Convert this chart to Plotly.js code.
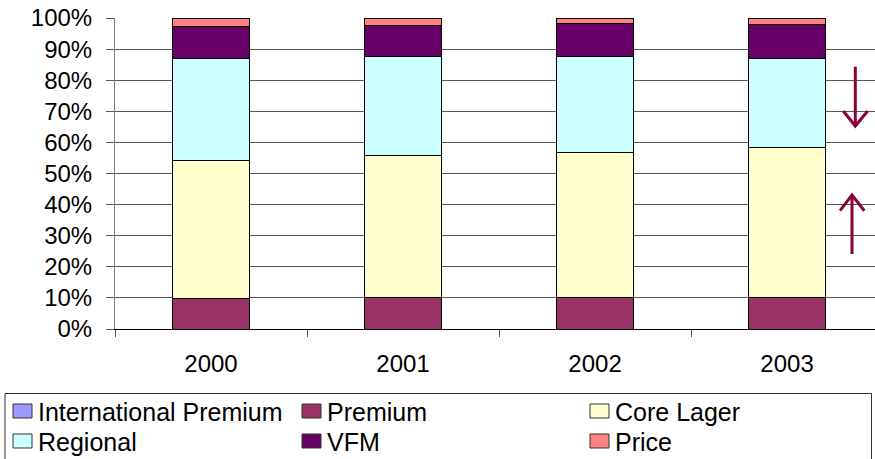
<!DOCTYPE html>
<html>
<head>
<meta charset="utf-8">
<script src="https://cdn.plot.ly/plotly-3.0.1.min.js"></script>
<style>
  html, body { margin: 0; padding: 0; background: #fff; }
  #chart { width: 875px; height: 459px; }
</style>
</head>
<body>
<div id="chart"></div>
<script>
// Beer market segment shares by year (fractions of 1)
const years = ['2000', '2001', '2002', '2003'];
const internationalPremium = [0.000, 0.000, 0.000, 0.000];
const premium   = [0.097, 0.100, 0.100, 0.101];
const coreLager = [0.446, 0.459, 0.467, 0.482];
const regional  = [0.328, 0.316, 0.309, 0.288];
const vfm       = [0.103, 0.100, 0.105, 0.108];
const price     = [0.026, 0.025, 0.019, 0.021];

const seriesNames  = ['International Premium', 'Premium', 'Core Lager', 'Regional', 'VFM', 'Price'];
const seriesValues = [internationalPremium, premium, coreLager, regional, vfm, price];
const seriesColors = ['#9999FF', '#993366', '#FFFFCC', '#CCFFFF', '#660066', '#FF8080'];

const FONT = 'Arial, "Liberation Sans", sans-serif';

// Page geometry (pixels) and helpers to place decorations in paper units
const W = 875, H = 459;
const M = { l: 115, r: 0, t: 18, b: 130 };
const plotW = W - M.l - M.r, plotH = H - M.t - M.b;
const px = p => (p - M.l) / plotW;
const py = p => (H - M.b - p) / plotH;

const traces = seriesNames.map((name, i) => ({
  type: 'bar',
  name: name,
  x: years,
  y: seriesValues[i],
  width: 0.4,
  marker: { color: seriesColors[i], line: { color: '#000', width: 1 } },
  hoverinfo: 'skip',
  showlegend: false
}));

// Trend arrows beside the last bar
const arrowColor = '#8B0038';
function arrow(x, yFrom, yTip, yHead, xl, xr) {
  return [
    { type: 'line', xref: 'paper', yref: 'paper',
      x0: px(x), x1: px(x), y0: py(yFrom), y1: py(yTip),
      line: { color: arrowColor, width: 3 } },
    { type: 'path', xref: 'paper', yref: 'paper',
      path: `M ${px(xl)},${py(yHead)} L ${px(x)},${py(yTip)} L ${px(xr)},${py(yHead)}`,
      line: { color: arrowColor, width: 3 } }
  ];
}

// Boxed key below the plot: three columns, two rows
const keyCols = [13, 302, 590];
const keyRows = [411, 441];
const keyShapes = [{
  type: 'rect', xref: 'paper', yref: 'paper',
  x0: px(5), x1: px(871.5), y0: py(393.5), y1: py(480),
  line: { color: '#333', width: 1 }, fillcolor: 'rgba(0,0,0,0)'
}];
const keyLabels = [];
seriesNames.forEach((name, i) => {
  const cx = keyCols[i % 3], cy = keyRows[Math.floor(i / 3)];
  keyShapes.push({
    type: 'rect', xref: 'paper', yref: 'paper',
    x0: px(cx), x1: px(cx + 19), y0: py(cy - 7), y1: py(cy + 7),
    fillcolor: seriesColors[i], line: { color: '#333', width: 1 }
  });
  keyLabels.push({
    xref: 'paper', yref: 'paper', x: px(cx + 23), y: py(cy + 1),
    xanchor: 'left', yanchor: 'middle', showarrow: false,
    text: name, font: { family: FONT, size: 25, color: '#000' }
  });
});

const layout = {
  width: W,
  height: H,
  margin: M,
  paper_bgcolor: '#fff',
  plot_bgcolor: '#fff',
  barmode: 'stack',
  showlegend: false,
  font: { family: FONT, color: '#000', size: 24 },
  xaxis: {
    type: 'category',
    range: [-0.5, 3.458],
    showgrid: false,
    showline: true,
    linecolor: '#000',
    linewidth: 1,
    ticks: 'outside',
    tickson: 'boundaries',
    ticklen: 7,
    tickcolor: '#555',
    tickfont: { family: FONT, size: 24, color: '#000' },
    ticklabelstandoff: 13,
    fixedrange: true
  },
  yaxis: {
    range: [0, 1],
    dtick: 0.1,
    tickformat: '.0%',
    showgrid: true,
    gridcolor: '#555',
    gridwidth: 1,
    zeroline: false,
    showline: true,
    linecolor: '#808080',
    linewidth: 1,
    ticks: 'outside',
    ticklen: 8,
    tickcolor: '#555',
    tickfont: { family: FONT, size: 24, color: '#000' },
    ticklabelstandoff: 9,
    fixedrange: true
  },
  shapes: [
    ...arrow(855.3, 66.7, 126, 111, 843.3, 867.7),
    ...arrow(852, 254, 195, 210.7, 840, 864.3),
    ...keyShapes
  ],
  annotations: keyLabels
};

Plotly.newPlot('chart', traces, layout, { staticPlot: true, displayModeBar: false });
</script>
</body>
</html>
